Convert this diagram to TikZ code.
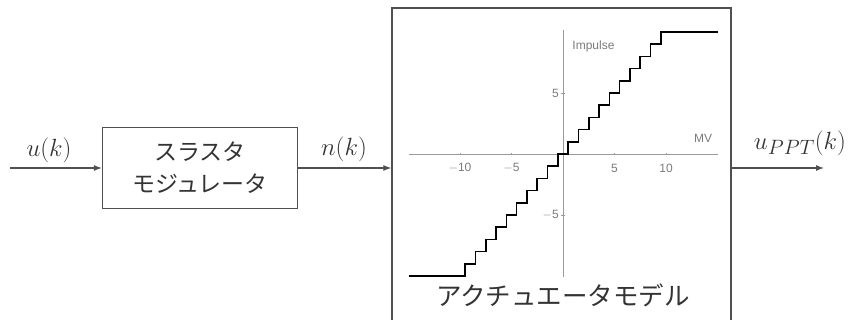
\documentclass[tikz,border=0pt]{standalone}
\usepackage{fontspec}
\usepackage{amsmath}
\usetikzlibrary{arrows.meta,positioning,calc}
\newfontfamily\jpfont{Noto Sans CJK JP}
\newfontfamily\plotfont{Liberation Sans}
\definecolor{LineGray}{HTML}{505050}
\definecolor{AxisGray}{HTML}{9A9A9A}
\definecolor{TextGray}{HTML}{333333}

\begin{document}
\begin{tikzpicture}[
  x=1pt,y=-1pt,
  block/.style={draw=LineGray,line width=1.3pt,inner sep=0pt,align=center,text=TextGray},
  arrow/.style={-{Latex[length=8pt,width=6pt]},line width=1.1pt,draw=LineGray},
  siglabel/.style={text=TextGray,font=\fontsize{28}{30}\selectfont},
  axis/.style={draw=AxisGray,line width=0.6pt},
  ticklabel/.style={text=AxisGray!80!black,font=\plotfont\fontsize{12}{13}\selectfont,inner sep=1pt},
  stepline/.style={draw=black,line width=1.6pt}
]
\useasboundingbox (0,0) rectangle (853,320);
\coordinate (in) at (10,168);
\coordinate (out) at (824,168);
\node[block,minimum width=195pt,minimum height=81pt,
      font=\jpfont\fontsize{23}{32}\selectfont] (modulator) at (200,168) {スラスタ\\モジュレータ};
\node[block,minimum width=339pt,minimum height=330pt] (actuator) at (561.5,173) {};
\node[text=TextGray,font=\jpfont\fontsize{25.5}{28}\selectfont] (title) at (563,295) {アクチュエータモデル};

\begin{scope}[shift={(563pt,-154pt)},x=10.3pt,y=12.2pt]
\draw[axis] (-15,0) -- (15,0);
\draw[axis] (0,-10.1) -- (0,10.2);
\foreach \t in {-10,-5,5,10}
  \draw[axis] (\t,-0.12) -- (\t,0.12);
\foreach \t in {-5,5}
  \draw[axis] (-0.15,\t) -- (0.15,\t);
\node[ticklabel] (xm10) at (-10,-1.15) {$-$10};
\node[ticklabel] (xm5) at (-5,-1.15) {$-$5};
\node[ticklabel] (xp5) at (5,-1.15) {5};
\node[ticklabel] (xp10) at (10,-1.15) {10};
\node[ticklabel,anchor=east] (yp5) at (-0.3,5) {5};
\node[ticklabel,anchor=east] (ym5) at (-0.3,-5) {$-$5};
\node[ticklabel,anchor=west] (ylabel) at (0.8,8.85) {Impulse};
\node[ticklabel] (xlabel) at (13.6,1.3) {MV};
\draw[stepline] (-15,-10) -- (-9.5,-10)
  \foreach \k in {-9,...,10} { -- (\k-0.5,\k) -- (\k+0.5,\k) } -- (15,10);
\end{scope}

\draw[arrow] (in) -- (modulator.west |- in);
\draw[arrow] (modulator.east |- in) -- (actuator.west |- in);
\draw[arrow] (actuator.east |- out) -- (out);
\node[siglabel] (ulabel) at (49,150) {$u(k)$};
\node[siglabel] (nlabel) at (344,149) {$n(k)$};
\node[siglabel] (uppt) at (800,143) {$u_{PPT}(k)$};
\end{tikzpicture}
\end{document}
